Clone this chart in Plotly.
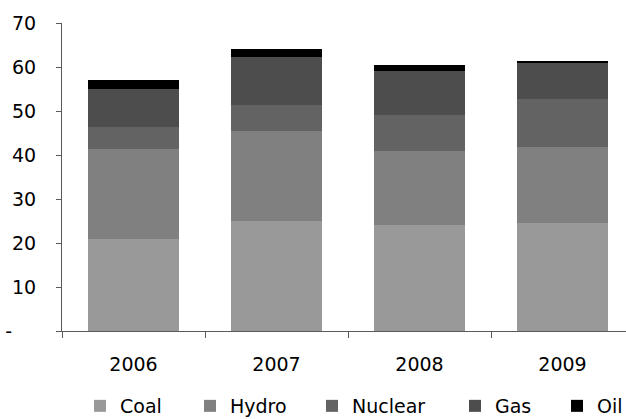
import plotly.graph_objects as go

# Generation mix by year (stacked)
years = ["2006", "2007", "2008", "2009"]
coal = [20.9, 25.0, 24.1, 24.5]
hydro = [20.5, 20.5, 16.8, 17.3]
nuclear = [5.0, 5.9, 8.2, 10.9]
gas = [8.6, 10.9, 10.0, 8.2]
oil = [2.0, 1.9, 1.4, 0.5]

series_names = ["Coal", "Hydro", "Nuclear", "Gas", "Oil"]
series_values = [coal, hydro, nuclear, gas, oil]
series_colors = ["#999999", "#808080", "#636363", "#4d4d4d", "#000000"]

y_tickvals = [0, 10, 20, 30, 40, 50, 60, 70]
y_ticktext = ["-\u00a0\u00a0\u00a0\u00a0", "10", "20", "30", "40", "50", "60", "70"]

FONT = "DejaVu Sans"
W, H = 626, 419

# one single-entry legend per series, laid out along the bottom row
legend_ids = ["legend", "legend2", "legend3", "legend4", "legend5"]
legend_left_px = [80, 190, 312, 455, 557]
legend_mid_px = 406

fig = go.Figure()
for name, vals, col, lid in zip(series_names, series_values, series_colors, legend_ids):
    fig.add_trace(go.Bar(
        x=years, y=vals, name=name, legend=lid,
        marker=dict(color=col, line=dict(width=0)),
    ))

legend_layouts = {}
for lid, lx in zip(legend_ids, legend_left_px):
    legend_layouts[lid] = dict(
        orientation="h",
        xref="container", yref="container",
        x=lx / W, xanchor="left",
        y=(H - legend_mid_px) / H, yanchor="middle",
        font=dict(family=FONT, size=19, color="#000000"),
        bgcolor="rgba(0,0,0,0)",
        borderwidth=0,
    )

fig.update_layout(
    width=W, height=H,
    barmode="stack",
    bargap=0.37,
    plot_bgcolor="white",
    paper_bgcolor="white",
    margin=dict(l=62, r=0, t=23, b=88),
    font=dict(family=FONT, size=19, color="#000000"),
    showlegend=True,
    xaxis=dict(
        type="category",
        range=[-0.5, 3.444],
        showline=True, linecolor="#5a5a5a", linewidth=1,
        ticks="outside", tickson="boundaries", ticklen=6, tickcolor="#5a5a5a",
        ticklabelstandoff=16,
        showgrid=False, zeroline=False,
    ),
    yaxis=dict(
        range=[0, 70],
        tickvals=y_tickvals, ticktext=y_ticktext,
        showline=True, linecolor="#5a5a5a", linewidth=1,
        ticks="outside", ticklen=5, tickcolor="#5a5a5a",
        ticklabelstandoff=16,
        showgrid=False, zeroline=False,
    ),
    **legend_layouts,
)

fig.write_html("out.html")
